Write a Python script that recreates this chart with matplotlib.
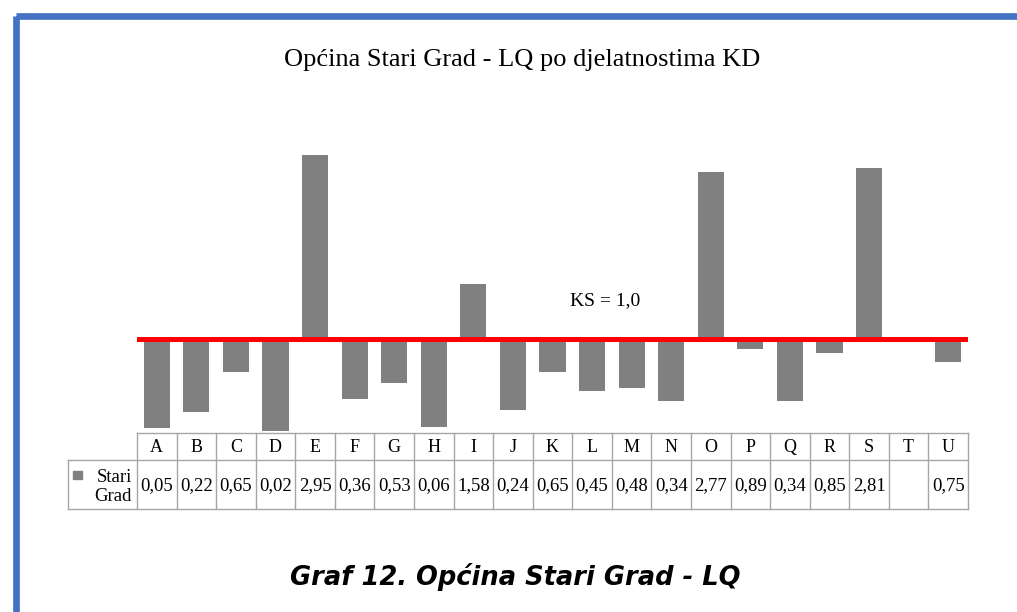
import numpy as np
import matplotlib.pyplot as plt
from matplotlib.patches import Rectangle

# data
categories = ['A', 'B', 'C', 'D', 'E', 'F', 'G', 'H', 'I', 'J', 'K',
              'L', 'M', 'N', 'O', 'P', 'Q', 'R', 'S', 'T', 'U']
lq_values = [0.05, 0.22, 0.65, 0.02, 2.95, 0.36, 0.53, 0.06, 1.58, 0.24, 0.65,
             0.45, 0.48, 0.34, 2.77, 0.89, 0.34, 0.85, 2.81, np.nan, 0.75]
series_name = 'Stari\nGrad'
ks_level = 1.0

W, H = 1017, 612
serif = ['Liberation Serif', 'DejaVu Serif']

fig = plt.figure(figsize=(W / 100, H / 100), dpi=100)


def fx(px):
    return px / W


def fy(py):
    return 1 - py / H


# blue frame (cropped: only left and top visible)
frame = fig.add_axes([0, 0, 1, 1])
frame.set_xlim(0, W)
frame.set_ylim(H, 0)
frame.axis('off')
frame.add_patch(Rectangle((16, 16), W + 50, H + 50, fill=False,
                          edgecolor='#4472C4', lw=4.8))

# chart area
x0, x1 = 137, 968
y_top, y_zero = 150, 433
ax = fig.add_axes([fx(x0), fy(y_zero), fx(x1) - fx(x0), fy(y_top) - fy(y_zero)])
x = np.arange(len(categories))
vals = np.array(lq_values)
ax.bar(x, vals - ks_level, bottom=ks_level, width=0.66, color='#808080')
ax.axhline(ks_level, color='#FF0000', lw=3.6)
ax.set_xlim(-0.5, len(categories) - 0.5)
ax.set_ylim(0, 3)
ax.axis('off')
ax.text(11.33, 1.4, 'KS = 1,0', ha='center', va='center', fontsize=14,
        family=serif)

fig.text(fx(522), fy(60), 'Općina Stari Grad - LQ po djelatnostima KD',
         ha='center', va='center', fontsize=19, family=serif)

# data table
tab = fig.add_axes([0, 0, 1, 1])
tab.set_xlim(0, W)
tab.set_ylim(H, 0)
tab.axis('off')
lab_x0 = 68
r0, r1, r2 = 433, 460, 509
col_w = (x1 - x0) / len(categories)
grid = dict(color='#A6A6A6', lw=1.0)
tab.plot([x0, x1], [r0, r0], **grid)
tab.plot([lab_x0, x1], [r1, r1], **grid)
tab.plot([lab_x0, x1], [r2, r2], **grid)
tab.plot([lab_x0, lab_x0], [r1, r2], **grid)
for i in range(len(categories) + 1):
    cx = x0 + i * col_w
    tab.plot([cx, cx], [r0, r2], **grid)
for i, (c, v) in enumerate(zip(categories, lq_values)):
    cx = x0 + (i + 0.5) * col_w
    tab.text(cx, (r0 + r1) / 2 + 1, c, ha='center', va='center',
             fontsize=13, family=serif)
    if not np.isnan(v):
        tab.text(cx, (r1 + r2) / 2 + 1, f'{v:.2f}'.replace('.', ','),
                 ha='center', va='center', fontsize=13.5, family=serif)
tab.add_patch(Rectangle((73, 471), 9, 8, color='#808080'))
tab.text(132, 487, series_name, ha='right', va='center',
         fontsize=13.5, family=serif, linespacing=1.1)

fig.text(fx(515), fy(577), 'Graf 12. Općina Stari Grad - LQ', ha='center',
         va='center', fontsize=18.5, fontweight='bold', fontstyle='italic',
         family=['DejaVu Sans'])

fig.savefig('out.png', dpi=100)
